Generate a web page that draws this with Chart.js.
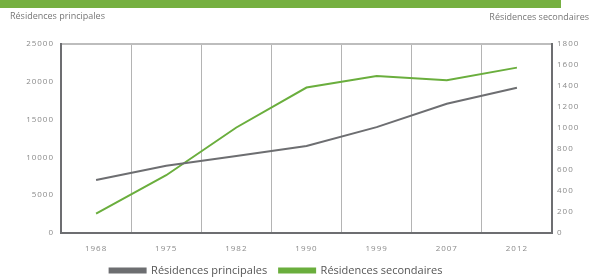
<!DOCTYPE html>
<html>
<head>
<meta charset="utf-8">
<script src="https://cdn.jsdelivr.net/npm/chart.js@4"></script>
<style>
  body { margin: 0; background: #fff; }
  #bar { position: absolute; left: 0; top: 0; width: 561px; height: 8px; background: #76b041; }
  #wrap { position: absolute; left: 0; top: 0; width: 590px; height: 280px; }
</style>
</head>
<body>
<div id="bar"></div>
<div id="wrap"><canvas id="chart" width="590" height="280"></canvas></div>
<script>
const years = ["1968", "1975", "1982", "1990", "1999", "2007", "2012"]
const principales = [7000, 8900, 10200, 11500, 14000, 17100, 19200]
const secondaires = [185, 550, 1005, 1385, 1495, 1455, 1575]

const grey = "#6d6e71"
const green = "#6aae3d"
const tickColor = "#8a8a8a"

// small tick labels are letter spaced in the original
const spacing = {
  id: "spacing",
  afterLayout(chart) {
    // legend sits centred under the left part, not the whole canvas
    chart.legend.right -= 38
    chart.legend.width -= 38
  },
  beforeDraw(chart) {
    const ctx = chart.ctx
    if (ctx._spaced) return
    const fill = ctx.fillText.bind(ctx)
    ctx.fillText = function (t, x, y, w) {
      ctx.letterSpacing = /(^|\s)8px/.test(ctx.font) ? "1px" : "0px"
      fill(t, x, y, w)
    }
    ctx._spaced = true
  },
  afterDraw(chart) {
    const ctx = chart.ctx
    ctx.save()
    ctx.font = "9px 'Open Sans'"
    ctx.fillStyle = "#777"
    ctx.textBaseline = "middle"
    ctx.textAlign = "left"
    ctx.fillText("Résidences principales", 10, 16)
    ctx.textAlign = "right"
    ctx.fillText("Résidences secondaires", 589, 17)
    ctx.restore()
  },
}

const plain = (v) => String(v)

new Chart(document.getElementById("chart"), {
  type: "line",
  plugins: [spacing],
  data: {
    labels: years,
    datasets: [
      {
        label: "Résidences principales",
        data: principales,
        yAxisID: "y",
        borderColor: grey,
        backgroundColor: grey,
        borderWidth: 2,
        pointRadius: 0,
        tension: 0,
      },
      {
        label: "Résidences secondaires",
        data: secondaires,
        yAxisID: "y1",
        borderColor: green,
        backgroundColor: green,
        borderWidth: 2,
        pointRadius: 0,
        tension: 0,
      },
    ],
  },
  options: {
    responsive: false,
    animation: false,
    layout: { padding: { top: 44, bottom: -6, left: 0, right: 0 } },
    plugins: {
      tooltip: { enabled: false },
      legend: {
        position: "bottom",
        labels: {
          boxWidth: 36,
          boxHeight: 4,
          padding: 12,
          color: "#555",
          font: { family: "'Open Sans'", size: 11 },
        },
      },
    },
    scales: {
      x: {
        offset: true,
        grid: { offset: true, color: "#b4b4b4", lineWidth: 1, drawTicks: false },
        border: { color: grey, width: 2 },
        ticks: { color: tickColor, font: { family: "'Open Sans'", size: 8 }, padding: 11, maxRotation: 0 },
        afterFit: (s) => { s.height = 20 },
      },
      y: {
        position: "left",
        min: 0,
        max: 25000,
        ticks: { stepSize: 5000, callback: plain, color: tickColor, font: { family: "'Open Sans'", size: 8 }, padding: 7 },
        grid: {
          drawTicks: false,
          color: (c) => (c.tick && c.tick.value === 25000 ? "#bdbdbd" : "transparent"),
          lineWidth: 2,
        },
        border: { color: grey, width: 2 },
        afterFit: (s) => { s.width = 61 },
      },
      y1: {
        position: "right",
        min: 0,
        max: 1800,
        ticks: { stepSize: 200, callback: plain, color: tickColor, font: { family: "'Open Sans'", size: 8 }, padding: 5 },
        grid: { display: false, drawTicks: false },
        border: { color: grey, width: 2 },
        afterFit: (s) => { s.width = 38 },
      },
    },
  },
})
</script>
</body>
</html>
